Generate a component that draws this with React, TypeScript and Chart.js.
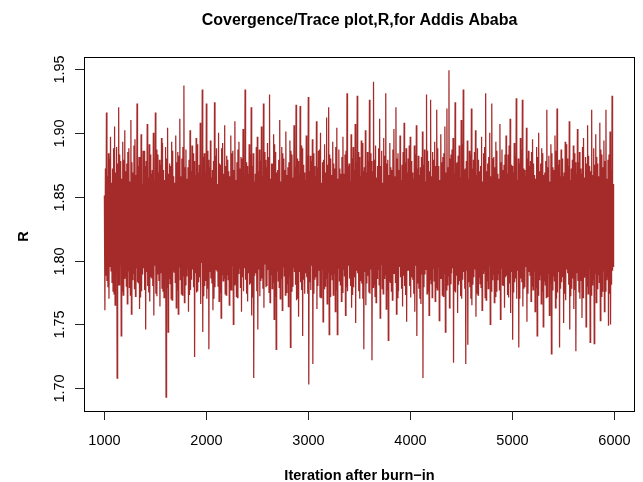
import { useEffect, useRef } from "react";
import { Chart, registerables } from "chart.js";

Chart.register(...registerables);

// Trace of R after burn-in in blocks of 20 iterations.
// Each block: first half (A) high then low, second half (B) high then low.
const iterStart = 1000;
const iterPerBlock = 20;

const blockHighA = [
  1.851, 1.916, 1.884, 1.897, 1.872, 1.905, 1.889, 1.920, 1.878, 1.893,
  1.902, 1.876, 1.888, 1.910, 1.869, 1.895, 1.923, 1.881, 1.899, 1.886,
  1.874, 1.907, 1.891, 1.868, 1.900, 1.916, 1.883, 1.879, 1.896, 1.871,
  1.889, 1.904, 1.876, 1.893, 1.866, 1.898, 1.885, 1.911, 1.880, 1.937,
  1.887, 1.873, 1.902, 1.890, 1.878, 1.896, 1.869, 1.908, 1.934, 1.884,
  1.923, 1.879, 1.894, 1.871, 1.924, 1.888, 1.900, 1.875, 1.892, 1.906,
  1.882, 1.870, 1.898, 1.886, 1.909, 1.877, 1.893, 1.881, 1.903, 1.934,
  1.874, 1.891, 1.920, 1.884, 1.868, 1.897, 1.887, 1.905, 1.923, 1.879,
  1.892, 1.930, 1.876, 1.899, 1.885, 1.871, 1.910, 1.889, 1.880, 1.901,
  1.873, 1.894, 1.883, 1.906, 1.922, 1.878, 1.921, 1.888, 1.869, 1.898,
  1.928, 1.882, 1.895, 1.874, 1.909, 1.886, 1.900, 1.877, 1.891, 1.912,
  1.920, 1.880, 1.893, 1.872, 1.904, 1.887, 1.868, 1.897, 1.883, 1.931,
  1.876, 1.899, 1.889, 1.907, 1.929, 1.881, 1.894, 1.870, 1.902, 1.885,
  1.926, 1.878, 1.940, 1.890, 1.874, 1.911, 1.886, 1.896, 1.931, 1.879,
  1.892, 1.871, 1.903, 1.920, 1.884, 1.898, 1.875, 1.908, 1.888, 1.880,
  1.897, 1.869, 1.890, 1.906, 1.882, 1.873, 1.901, 1.887, 1.930, 1.878,
  1.926, 1.885, 1.893, 1.918, 1.874, 1.899, 1.881, 1.905, 1.919, 1.949,
  1.883, 1.896, 1.924, 1.877, 1.890, 1.910, 1.934, 1.872, 1.894, 1.886,
  1.919, 1.879, 1.902, 1.888, 1.870, 1.897, 1.884, 1.931, 1.876, 1.900,
  1.923, 1.881, 1.893, 1.868, 1.907, 1.887, 1.875, 1.898, 1.883, 1.911,
  1.874, 1.892, 1.927, 1.880, 1.896, 1.926, 1.871, 1.904, 1.886, 1.878,
  1.895, 1.867, 1.889, 1.900, 1.876, 1.884, 1.869, 1.918, 1.882, 1.891,
  1.873, 1.898, 1.919, 1.879, 1.887, 1.866, 1.893, 1.880, 1.909, 1.872,
  1.890, 1.877, 1.903, 1.885, 1.868, 1.896, 1.881, 1.906, 1.874, 1.918,
  1.888, 1.899, 1.876, 1.908, 1.883, 1.894, 1.918, 1.879, 1.901, 1.929,
];

const blockLowA = [
  1.761, 1.784, 1.770, 1.792, 1.776, 1.765, 1.708, 1.781, 1.741, 1.773,
  1.787, 1.766, 1.779, 1.758, 1.790, 1.772, 1.783, 1.762, 1.776, 1.794,
  1.746, 1.780, 1.768, 1.786, 1.757, 1.774, 1.789, 1.764, 1.778, 1.771,
  1.693, 1.744, 1.782, 1.769, 1.791, 1.763, 1.758, 1.785, 1.773, 1.767,
  1.788, 1.760, 1.777, 1.793, 1.7245, 1.775, 1.783, 1.766, 1.744, 1.780,
  1.770, 1.7305, 1.786, 1.761, 1.779, 1.792, 1.768, 1.755, 1.784, 1.774,
  1.789, 1.765, 1.777, 1.750, 1.782, 1.771, 1.794, 1.760, 1.776, 1.785,
  1.768, 1.781, 1.757, 1.708, 1.790, 1.746, 1.772, 1.786, 1.763, 1.779,
  1.793, 1.767, 1.778, 1.754, 1.7305, 1.784, 1.770, 1.761, 1.788, 1.775,
  1.764, 1.732, 1.780, 1.791, 1.769, 1.756, 1.783, 1.741, 1.774, 1.787,
  1.703, 1.777, 1.719, 1.785, 1.762, 1.792, 1.771, 1.752, 1.780, 1.766,
  1.742, 1.789, 1.773, 1.760, 1.742, 1.784, 1.768, 1.793, 1.757, 1.776,
  1.786, 1.763, 1.779, 1.751, 1.790, 1.770, 1.782, 1.7305, 1.765, 1.788,
  1.774, 1.722, 1.781, 1.767, 1.793, 1.755, 1.778, 1.786, 1.762, 1.7375,
  1.783, 1.769, 1.790, 1.758, 1.776, 1.787, 1.764, 1.780, 1.752, 1.792,
  1.771, 1.785, 1.760, 1.741, 1.778, 1.766, 1.708, 1.789, 1.774, 1.757,
  1.782, 1.794, 1.768, 1.777, 1.753, 1.786, 1.772, 1.744, 1.781, 1.763,
  1.790, 1.720, 1.775, 1.759, 1.784, 1.770, 1.791, 1.719, 1.734, 1.779,
  1.765, 1.787, 1.756, 1.773, 1.782, 1.761, 1.792, 1.769, 1.778, 1.750,
  1.785, 1.767, 1.776, 1.790, 1.754, 1.781, 1.763, 1.788, 1.771, 1.759,
  1.738, 1.783, 1.770, 1.732, 1.786, 1.764, 1.779, 1.752, 1.791, 1.768,
  1.777, 1.760, 1.741, 1.785, 1.766, 1.748, 1.781, 1.772, 1.757, 1.727,
  1.788, 1.763, 1.775, 1.732, 1.783, 1.751, 1.769, 1.790, 1.746, 1.778,
  1.762, 1.729, 1.784, 1.770, 1.755, 1.787, 1.748, 1.774, 1.736, 1.781,
  1.735, 1.767, 1.789, 1.753, 1.776, 1.760, 1.785, 1.749, 1.750, 1.792,
];

const blockHighB = [
  1.872, 1.866, 1.880, 1.861, 1.888, 1.869, 1.876, 1.883, 1.864, 1.879,
  1.870, 1.885, 1.862, 1.877, 1.890, 1.867, 1.874, 1.881, 1.860, 1.886,
  1.878, 1.865, 1.883, 1.871, 1.862, 1.887, 1.869, 1.875, 1.892, 1.863,
  1.880, 1.868, 1.874, 1.886, 1.861, 1.877, 1.882, 1.866, 1.889, 1.873,
  1.864, 1.879, 1.870, 1.884, 1.867, 1.891, 1.875, 1.862, 1.881, 1.869,
  1.886, 1.873, 1.865, 1.878, 1.882, 1.860, 1.876, 1.888, 1.868, 1.874,
  1.879, 1.866, 1.884, 1.871, 1.863, 1.887, 1.872, 1.880, 1.865, 1.877,
  1.868, 1.883, 1.874, 1.862, 1.889, 1.870, 1.878, 1.866, 1.885, 1.873,
  1.881, 1.864, 1.876, 1.891, 1.869, 1.879, 1.862, 1.884, 1.871, 1.867,
  1.877, 1.886, 1.865, 1.873, 1.880, 1.868, 1.890, 1.875, 1.863, 1.882,
  1.870, 1.878, 1.884, 1.866, 1.873, 1.887, 1.861, 1.879, 1.869, 1.875,
  1.883, 1.867, 1.876, 1.889, 1.864, 1.872, 1.881, 1.868, 1.886, 1.874,
  1.862, 1.880, 1.871, 1.877, 1.885, 1.866, 1.892, 1.873, 1.869, 1.878,
  1.884, 1.870, 1.879, 1.865, 1.888, 1.874, 1.861, 1.882, 1.876, 1.867,
  1.873, 1.887, 1.866, 1.880, 1.871, 1.863, 1.885, 1.877, 1.869, 1.890,
  1.878, 1.864, 1.883, 1.872, 1.867, 1.881, 1.875, 1.862, 1.886, 1.870,
  1.866, 1.879, 1.874, 1.888, 1.863, 1.877, 1.884, 1.869, 1.873, 1.880,
  1.887, 1.868, 1.876, 1.882, 1.865, 1.891, 1.871, 1.878, 1.864, 1.883,
  1.872, 1.885, 1.867, 1.879, 1.874, 1.862, 1.889, 1.870, 1.881, 1.866,
  1.880, 1.873, 1.886, 1.864, 1.877, 1.871, 1.883, 1.868, 1.890, 1.875,
  1.869, 1.882, 1.863, 1.876, 1.887, 1.872, 1.866, 1.880, 1.874, 1.885,
  1.876, 1.864, 1.881, 1.870, 1.888, 1.867, 1.878, 1.873, 1.862, 1.884,
  1.871, 1.886, 1.875, 1.866, 1.880, 1.869, 1.891, 1.874, 1.863, 1.879,
  1.884, 1.868, 1.877, 1.872, 1.889, 1.865, 1.876, 1.882, 1.870, 1.867,
  1.875, 1.881, 1.866, 1.887, 1.873, 1.878, 1.864, 1.883, 1.871, 1.860,
];

const blockLowB = [
  1.788, 1.779, 1.795, 1.783, 1.774, 1.790, 1.781, 1.797, 1.776, 1.786,
  1.780, 1.792, 1.773, 1.785, 1.778, 1.794, 1.782, 1.771, 1.789, 1.777,
  1.791, 1.775, 1.787, 1.780, 1.796, 1.772, 1.784, 1.790, 1.776, 1.793,
  1.779, 1.786, 1.770, 1.792, 1.783, 1.777, 1.795, 1.774, 1.788, 1.781,
  1.794, 1.773, 1.785, 1.779, 1.790, 1.776, 1.787, 1.798, 1.772, 1.784,
  1.778, 1.791, 1.782, 1.770, 1.793, 1.780, 1.775, 1.789, 1.786, 1.773,
  1.785, 1.777, 1.796, 1.781, 1.772, 1.790, 1.779, 1.787, 1.794, 1.774,
  1.790, 1.782, 1.771, 1.788, 1.776, 1.793, 1.784, 1.778, 1.797, 1.780,
  1.775, 1.789, 1.783, 1.772, 1.792, 1.779, 1.786, 1.795, 1.773, 1.782,
  1.788, 1.776, 1.794, 1.781, 1.770, 1.791, 1.777, 1.785, 1.790, 1.774,
  1.783, 1.796, 1.774, 1.787, 1.780, 1.771, 1.793, 1.778, 1.786, 1.791,
  1.772, 1.785, 1.790, 1.777, 1.794, 1.781, 1.775, 1.788, 1.779, 1.796,
  1.780, 1.773, 1.787, 1.792, 1.776, 1.784, 1.770, 1.791, 1.782, 1.775,
  1.793, 1.779, 1.772, 1.786, 1.781, 1.797, 1.774, 1.789, 1.777, 1.784,
  1.776, 1.790, 1.783, 1.771, 1.795, 1.778, 1.788, 1.773, 1.792, 1.780,
  1.787, 1.774, 1.796, 1.782, 1.770, 1.789, 1.779, 1.793, 1.776, 1.785,
  1.771, 1.784, 1.779, 1.795, 1.786, 1.773, 1.790, 1.777, 1.788, 1.782,
  1.794, 1.776, 1.788, 1.781, 1.772, 1.785, 1.778, 1.792, 1.783, 1.770,
  1.781, 1.793, 1.774, 1.787, 1.779, 1.790, 1.771, 1.784, 1.796, 1.776,
  1.789, 1.772, 1.785, 1.777, 1.794, 1.780, 1.787, 1.773, 1.782, 1.791,
  1.775, 1.786, 1.792, 1.770, 1.783, 1.778, 1.795, 1.774, 1.788, 1.780,
  1.792, 1.779, 1.773, 1.789, 1.776, 1.784, 1.771, 1.790, 1.782, 1.777,
  1.784, 1.770, 1.791, 1.778, 1.787, 1.774, 1.793, 1.781, 1.772, 1.786,
  1.777, 1.790, 1.775, 1.784, 1.771, 1.788, 1.780, 1.794, 1.773, 1.785,
  1.790, 1.778, 1.783, 1.772, 1.792, 1.776, 1.787, 1.774, 1.781, 1.795,
];

const xTickValues = [1000, 2000, 3000, 4000, 5000, 6000];
const xTickLabels = ["1000", "2000", "3000", "4000", "5000", "6000"];
const yTickValues = [1.7, 1.75, 1.8, 1.85, 1.9, 1.95];
const yTickLabels = ["1.70", "1.75", "1.80", "1.85", "1.90", "1.95"];

const titleText = "Covergence/Trace plot,R,for Addis Ababa";
const xTitleText = "Iteration after burn\u2212in";
const yTitleText = "R";

const FONT = '"Liberation Sans", Arial, Helvetica, sans-serif';
const LINE_COLOR = "#A52A2A";

const rAxesPlugin = {
  id: "rAxes",
  afterDraw(chart: any) {
    const ctx: CanvasRenderingContext2D = chart.ctx;
    const { left, right, top, bottom } = chart.chartArea;
    const xs = chart.scales.x;
    const ys = chart.scales.y;
    ctx.save();

    // box
    ctx.strokeStyle = "#000";
    ctx.lineWidth = 1;
    ctx.strokeRect(left + 0.5, top + 0.5, right - left - 1, bottom - top - 1);

    // x ticks + labels
    ctx.strokeStyle = "#222";
    ctx.fillStyle = "#000";
    ctx.font = `14.5px ${FONT}`;
    ctx.textAlign = "center";
    ctx.textBaseline = "alphabetic";
    xTickValues.forEach((v, i) => {
      const px = Math.round(xs.getPixelForValue(v)) + 0.5;
      ctx.beginPath();
      ctx.moveTo(px, bottom - 1);
      ctx.lineTo(px, bottom + 8);
      ctx.stroke();
      ctx.fillText(xTickLabels[i], px, 444.5);
    });

    // y ticks + rotated labels
    yTickValues.forEach((v, i) => {
      const py = Math.round(ys.getPixelForValue(v)) + 0.5;
      ctx.beginPath();
      ctx.moveTo(left, py);
      ctx.lineTo(left - 9, py);
      ctx.stroke();
      ctx.save();
      ctx.translate(63.5, py);
      ctx.rotate(-Math.PI / 2);
      ctx.fillText(yTickLabels[i], 0, 0);
      ctx.restore();
    });

    const cx = (left + right) / 2;
    // title
    ctx.font = `bold 16px ${FONT}`;
    ctx.fillText(titleText, cx, 24.5);

    // x title
    ctx.font = `bold 14.5px ${FONT}`;
    ctx.fillText(xTitleText, cx, 480);

    // y title
    ctx.save();
    ctx.translate(27.5, (top + bottom) / 2 + 2);
    ctx.rotate(-Math.PI / 2);
    ctx.fillText(yTitleText, 0, 0);
    ctx.restore();

    ctx.restore();
  },
};

export default function App() {
  const canvasRef = useRef<HTMLCanvasElement>(null);

  useEffect(() => {
    const canvas = canvasRef.current;
    if (!canvas) return;
    const points: { x: number; y: number }[] = [];
    const q = iterPerBlock / 4;
    blockHighA.forEach((h, i) => {
      const it = iterStart + i * iterPerBlock;
      points.push({ x: it, y: h });
      points.push({ x: it + q, y: blockLowA[i] });
      points.push({ x: it + 2 * q, y: blockHighB[i] });
      points.push({ x: it + 3 * q, y: blockLowB[i] });
    });

    const chart = new Chart(canvas, {
      type: "line",
      data: {
        datasets: [
          {
            data: points,
            borderColor: LINE_COLOR,
            borderWidth: 1.25,
            pointRadius: 0,
            fill: false,
            tension: 0,
          },
        ],
      },
      options: {
        animation: false,
        responsive: false,
        maintainAspectRatio: false,
        events: [],
        layout: { padding: { left: 84, top: 57, right: 8, bottom: 70 } },
        scales: {
          x: { type: "linear", display: false, min: 800, max: 6205 },
          y: { type: "linear", display: false, min: 1.6814, max: 1.9594 },
        },
        plugins: {
          legend: { display: false },
          tooltip: { enabled: false },
          title: { display: false },
        },
      },
      plugins: [rAxesPlugin],
    });
    return () => chart.destroy();
  }, []);

  return (
    <div
      style={{
        position: "fixed",
        left: 0,
        top: 0,
        width: 643,
        height: 482,
        background: "#fff",
      }}
    >
      <canvas
        ref={canvasRef}
        width={643}
        height={482}
        style={{ display: "block", width: 643, height: 482 }}
      />
    </div>
  );
}
